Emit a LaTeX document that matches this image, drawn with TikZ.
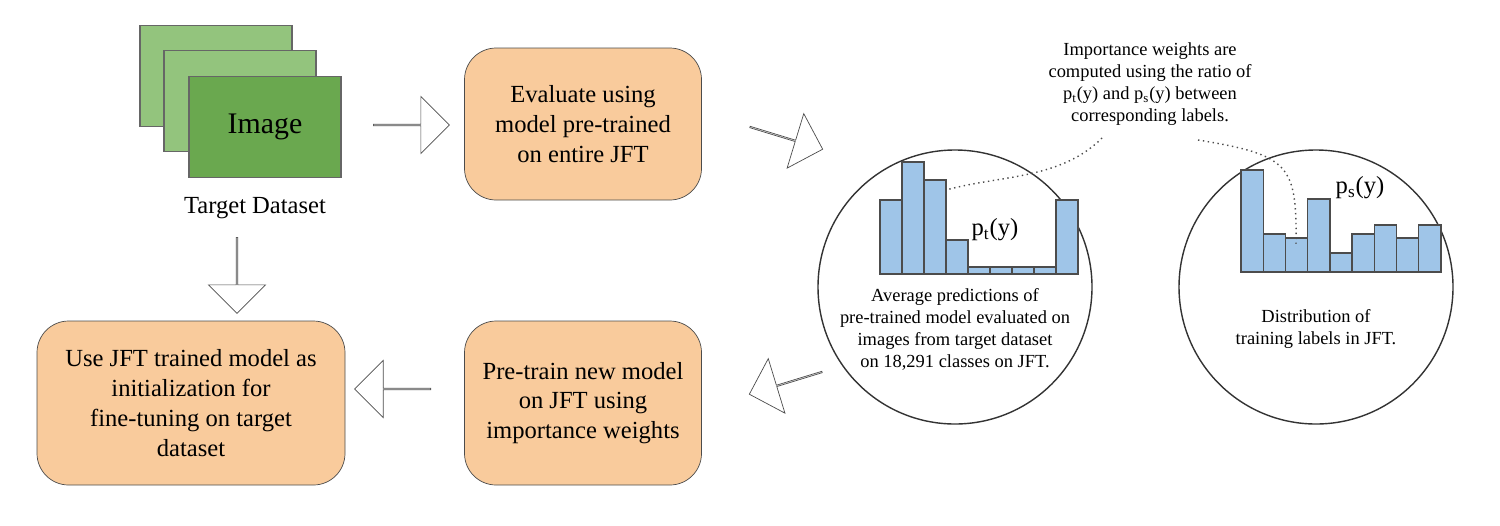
\documentclass[tikz,border=0pt]{standalone}
\usepackage{fontspec}
\setmainfont{Liberation Serif}
\usetikzlibrary{shapes.arrows}
\definecolor{boxfill}{HTML}{F9CB9C}
\definecolor{imglight}{HTML}{93C47D}
\definecolor{imgdark}{HTML}{6AA84F}
\definecolor{barfill}{HTML}{9FC5E8}
\tikzset{
    stage/.style={draw=black!70, fill=boxfill, rounded corners=18pt, align=center, minimum width=237*0.02cm, inner sep=2pt, font=\fontsize{14}{17}\selectfont},
    img/.style={draw=black!60, thick, minimum width=152*0.02cm, minimum height=101*0.02cm},
    bigarrow/.style={single arrow, draw=black!70, fill=white, minimum height=76*0.02cm, minimum width=57*0.02cm, single arrow head extend=0.28cm, inner sep=0pt},
    bubble/.style={circle, draw=black!80, thick, minimum size=274*0.02cm},
    note/.style={align=center, font=\fontsize{10.5}{12.5}\selectfont},
    bar/.style={draw=black!70, thick, fill=barfill},
    link/.style={dotted, thick, black!70}
}
\begin{document}
\begin{tikzpicture}[x=0.02cm, y=-0.02cm]
    \useasboundingbox (0,0) rectangle (1500,525);
    % target images
    \node (img1) [img, fill=imglight] at (216,76) {};
    \node (img2) [img, fill=imglight] at (240,101) {};
    \node (img3) [img, fill=imgdark, font=\fontsize{17}{20}\selectfont] at (265,127) {Image};
    \node (target) [font=\fontsize{14}{17}\selectfont] at (255,208) {Target Dataset};

    % stages
    \node (eval) [stage, minimum height=152*0.02cm] at (583,124) {Evaluate using\\model pre-trained\\on entire JFT};
    \node (use) [stage, minimum width=308*0.02cm, minimum height=164*0.02cm] at (191,403) {Use JFT trained model as\\initialization for\\fine-tuning on target\\dataset};
    \node (pre) [stage, minimum height=164*0.02cm] at (583,403) {Pre-train new model\\on JFT using\\importance weights};

    % block arrows
    \node (a1) [bigarrow] at (411,125) {};
    \node (a2) [bigarrow, rotate=-90] at (237,275) {};
    \node (a3) [bigarrow, rotate=180] at (393,389) {};
    \node (a4) [bigarrow, rotate=-17] at (786,138) {};
    \node (a5) [bigarrow, rotate=197] at (786,383) {};

    % histograms
    \node (ct) [bubble] at (955,287) {};
    \node (cs) [bubble] at (1316,287) {};
    \foreach \h [count=\i] in {200,162,180,240,267,267,267,267,200}
        \draw[bar] ({880+(\i-1)*22},274) rectangle ({880+\i*22},\h);
    \foreach \h [count=\i] in {170,234,238,199,253,234,225,238,225}
        \draw[bar] ({1241+(\i-1)*22.2},272) rectangle ({1241+\i*22.2},\h);
    \node (pt) [font=\fontsize{14}{17}\selectfont] at (995,230) {p\textsubscript{t}(y)};
    \node (ps) [font=\fontsize{14}{17}\selectfont] at (1360,188) {p\textsubscript{s}(y)};

    % notes
    \node (info) [note] at (1150,84) {Importance weights are\\computed using the ratio of\\p\textsubscript{t}(y) and p\textsubscript{s}(y) between\\corresponding labels.};
    \node (tnote) [note] at (955,329) {Average predictions of\\pre-trained model evaluated on\\images from target dataset\\on 18,291 classes on JFT.};
    \node (snote) [note] at (1316,329) {Distribution of\\training labels in JFT.};

    % dotted links
    \coordinate (l1) at (1102,138);
    \coordinate (t1) at (946,190);
    \coordinate (l2) at (1198,140);
    \coordinate (s1) at (1296,245);
    \draw[link] (l1) .. controls (1060,180) and (1000,175) .. (t1);
    \draw[link] (l2) .. controls (1290,155) and (1297,165) .. (s1);
\end{tikzpicture}
\end{document}
